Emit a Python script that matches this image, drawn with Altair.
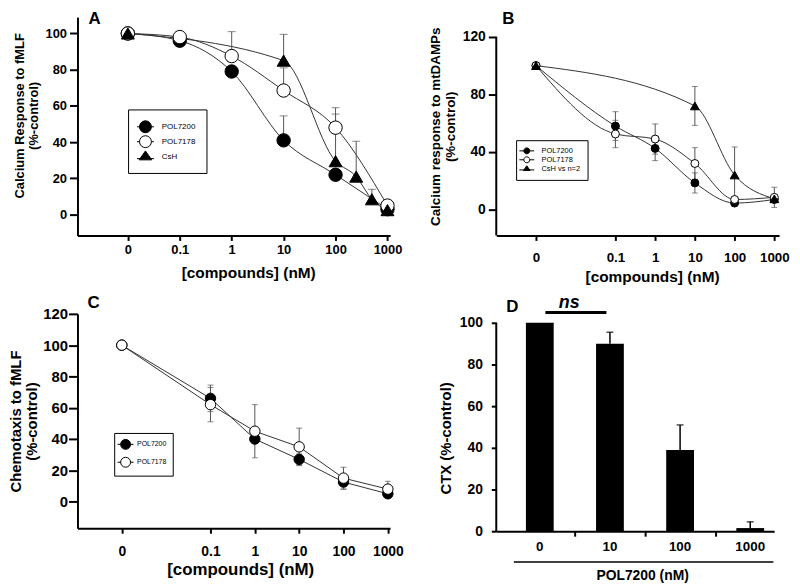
import altair as alt
import pandas as pd

FONT = "Liberation Sans"
LINE = "#333333"
ERRC = "#555555"

# ---------------- data ----------------
X_TICK_LABELS = ["0", "0.1", "1", "10", "100", "1000"]

A_conc = [0, 0.1, 1, 10, 100, 1000]
A_POL7200 = [100, 96, 79, 41, 22, 3]
A_POL7200_err = [0, 0, 0, 13.5, 0, 0]
A_POL7178 = [100, 98, 87.5, 68.5, 48, 5]
A_POL7178_err = [0, 0, 13.5, 12.5, 11, 0]
A_CsH_conc = [0, 10, 100, 250, 500, 1000]
A_CsH = [100, 85, 29.5, 21, 8.5, 2.5]
A_CsH_err = [0, 14.5, 26, 19.5, 5.5, 0]

B_conc = [0, 0.1, 1, 10, 100, 1000]
B_POL7200 = [100, 58, 42.5, 18.5, 4.5, 7]
B_POL7200_err = [0, 10, 8.5, 7, 0, 0]
B_POL7178 = [100, 52.5, 49, 32, 7, 8.5]
B_POL7178_err = [0, 9.5, 10.5, 11, 0, 7]
B_CsH_conc = [0, 10, 100, 1000]
B_CsH = [100, 72, 24, 7.5]
B_CsH_err = [0, 13.5, 19.5, 0]

C_conc = [0, 0.1, 1, 10, 100, 1000]
C_POL7200 = [100, 66, 40, 27, 12.5, 5]
C_POL7200_err = [0, 8.5, 0, 3.5, 4.5, 0]
C_POL7178 = [100, 62, 45, 35, 15, 8]
C_POL7178_err = [0, 11, 17, 12, 7, 5]

D_doses = ["0", "10", "100", "1000"]
D_ctx = [100, 90, 39, 1.5]
D_err = [0, 5.5, 12, 3]

AX = dict(domain=True, domainColor="#000000", domainWidth=2, ticks=True, tickColor="#000000",
          tickWidth=2, labelColor="#000000", titleColor="#000000", labelFont=FONT, titleFont=FONT,
          labelFontWeight="bold", titleFontWeight="bold", grid=False)


def sdf(name, conc, val, err):
    return pd.DataFrame({"series": name, "conc": conc, "value": val, "err": err})


def circ_path(st):
    return (f"M{-st},0L-1,0M1,0L{st},0M1,0A1,1,0,1,1,-1,0A1,1,0,1,1,1,0Z")


def tri_path(st, w, t, b, ly):
    return (f"M{-st},{ly}L{-w * 0.5},{ly}M{w * 0.5},{ly}L{st},{ly}M0,{-t}L{w},{b}L{-w},{b}Z")


def label_expr(vals, labels):
    expr = "''"
    for v, l in reversed(list(zip(vals, labels))):
        expr = f"datum.value == {v} ? '{l}' : ({expr})"
    return expr


def axis(**kw):
    d = dict(AX)
    d.update(kw)
    return alt.Axis(**d)


def curve_panel(key, series, zero_pos, xdom, ydom, w, h, xaxis, yaxis, legend,
                leg_size, title, both_err, cap, extra=None):
    def X():
        return alt.X("pos:Q", scale=alt.Scale(domain=xdom, nice=False, zero=False), axis=xaxis)

    def Y(field):
        return alt.Y(f"{field}:Q", scale=alt.Scale(domain=ydom, nice=False, zero=False), axis=yaxis)

    def base(df):
        return alt.Chart(df).transform_calculate(
            pos=f"datum.conc == 0 ? {zero_pos} : log(datum.conc) / LN10",
            hi="datum.value + datum.err",
            lo="datum.value - datum.err",
        )

    layers = []
    for s in series:
        layers.append(base(s["df"]).mark_line(interpolate=s["interp"], color=LINE, strokeWidth=1)
                      .encode(x=X(), y=Y("value")))
    for s in series:
        b = base(s["df"]).transform_filter("datum.err > 0")
        layers.append(b.mark_rule(color=ERRC, strokeWidth=1)
                      .encode(x=X(), y=Y("lo" if both_err else "value"), y2="hi:Q"))
        layers.append(b.mark_tick(orient="horizontal", size=cap, thickness=1, color=ERRC)
                      .encode(x=X(), y=Y("hi")))
        if both_err:
            layers.append(b.mark_tick(orient="horizontal", size=cap, thickness=1, color=ERRC)
                          .encode(x=X(), y=Y("lo")))
    for s in series:
        layers.append(base(s["df"]).mark_point(shape=s["shape"], size=s["size"], filled=True,
                                               fill="white" if s["open"] else "black",
                                               stroke="black", strokeWidth=1, opacity=1)
                      .encode(x=X(), y=Y("value")))
    names = [s["name"] for s in series]
    fld = f"leg{key}:N"
    leg = alt.Legend(**legend)
    layers.append(
        alt.Chart(pd.DataFrame({f"leg{key}": names})).transform_filter("false")
        .mark_point(filled=False, strokeWidth=1, opacity=1, size=leg_size)
        .encode(
            shape=alt.Shape(fld, scale=alt.Scale(domain=names, range=[s["lpath"] for s in series]), legend=leg),
            fill=alt.Fill(fld, scale=alt.Scale(domain=names, range=["white" if s["open"] else "black" for s in series]), legend=leg),
            stroke=alt.Stroke(fld, scale=alt.Scale(domain=names, range=["black"] * len(names)), legend=leg),
        )
    )
    if extra:
        layers += extra(X, Y)
    return alt.layer(*layers).properties(width=w, height=h, title=title)


def ptitle(t, dx, dy=0):
    return alt.TitleParams(text=t, anchor="start", frame="group", fontSize=17, fontWeight="bold",
                           font=FONT, color="black", dx=dx, dy=dy, offset=2)


def leg_cfg(x, y, pad, fs, rowpad, loff, ssize):
    return dict(orient="none", legendX=x, legendY=y, title=None, padding=pad, strokeColor="black",
                fillColor="white", labelFont=FONT, labelFontSize=fs, labelFontWeight="normal",
                labelColor="black", symbolSize=ssize, symbolStrokeWidth=1, symbolOpacity=1,
                rowPadding=rowpad, labelOffset=loff)


# ---------------- Panel A ----------------
A_ticks = [-2, -1, 0, 1, 2, 3]
A_x = axis(values=A_ticks, labelExpr=label_expr(A_ticks, X_TICK_LABELS), tickSize=5, labelPadding=3,
           labelFontSize=13, title="[compounds] (nM)", titleFontSize=15.5, titlePadding=9, titleX=172)
A_y = axis(values=[0, 20, 40, 60, 80, 100], tickSize=8, labelPadding=3, labelFontSize=13,
           title=["Calcium Response to fMLF", "(%-control)"], titleFontSize=13, titleLineHeight=13.5,
           titlePadding=5, titleY=99)
A_series = [
    dict(name="POL7200", df=sdf("POL7200", A_conc, A_POL7200, A_POL7200_err), open=False, shape="circle",
         size=182, interp="monotone", lpath=circ_path(1.42)),
    dict(name="POL7178", df=sdf("POL7178", A_conc, A_POL7178, A_POL7178_err), open=True, shape="circle",
         size=182, interp="monotone", lpath=circ_path(1.42)),
    dict(name="CsH", df=sdf("CsH", A_CsH_conc, A_CsH, A_CsH_err), open=False, shape="triangle-up",
         size=170, interp="monotone", lpath=tri_path(1.42, 1.05, 0.95, 0.55, 0.35)),
]
panelA = curve_panel("A", A_series, -2, [-2.97, 3.05], [-11.5, 109], 315, 220, A_x, A_y,
                     leg_cfg(51, 93, 11, 8, -3, 10, 144), 144, ptitle("A", 11, 13), False, 8)

# ---------------- Panel B ----------------
BC_ticks = [-3, -1, 0, 1, 2, 3]
B_x = axis(values=BC_ticks, labelExpr=label_expr(BC_ticks, X_TICK_LABELS), tickSize=5, labelPadding=10,
           labelFontSize=13.5, title="[compounds] (nM)", titleFontSize=15.5, titlePadding=6, titleX=157)
B_y = axis(values=[0, 20, 40, 60, 80, 100, 120], domain=False, tickSize=8, labelPadding=3, labelFontSize=14,
           title=["Calcium response to mtDAMPs", "(%-control)"], titleFontSize=13.5, titleLineHeight=15,
           titlePadding=5)
B_series = [
    dict(name="POL7200", df=sdf("POL7200", B_conc, B_POL7200, B_POL7200_err), open=False, shape="circle",
         size=64, interp="monotone", lpath=circ_path(2.5)),
    dict(name="POL7178", df=sdf("POL7178", B_conc, B_POL7178, B_POL7178_err), open=True, shape="circle",
         size=64, interp="monotone", lpath=circ_path(2.5)),
    dict(name="CsH vs n=2", df=sdf("CsH vs n=2", B_CsH_conc, B_CsH, B_CsH_err), open=False, shape="triangle-up",
         size=80, interp="monotone", lpath=tri_path(2.5, 1.1, 1.0, 0.6, 0.4)),
]


def B_extra(X, Y):
    return [alt.Chart(pd.DataFrame({"a": [0]})).mark_rule(color="black", strokeWidth=2)
            .encode(x=alt.value(0), y=alt.datum(-18), y2=alt.datum(120))]


panelB = curve_panel("B", B_series, -3, [-4, 3.12], [-18, 133.7], 285, 220, B_x, B_y,
                     leg_cfg(20, 124, 7, 7.5, -2.2, 11, 36), 36, ptitle("B", 6, 13), True, 6, B_extra)

# ---------------- Panel C ----------------
C_x = axis(values=BC_ticks, labelExpr=label_expr(BC_ticks, X_TICK_LABELS), tickSize=5, labelPadding=11,
           labelFontSize=14, title="[compounds] (nM)", titleFontSize=17, titlePadding=4, titleX=164)
C_y = axis(values=[0, 20, 40, 60, 80, 100, 120], tickSize=9, labelPadding=1, labelFontSize=15,
           title=["Chemotaxis to fMLF", "(%-control)"], titleFontSize=15, titleLineHeight=16, titlePadding=3)
C_series = [
    dict(name="POL7200", df=sdf("POL7200", C_conc, C_POL7200, C_POL7200_err), open=False, shape="circle",
         size=110, interp="linear", lpath=circ_path(1.6)),
    dict(name="POL7178", df=sdf("POL7178", C_conc, C_POL7178, C_POL7178_err), open=True, shape="circle",
         size=110, interp="linear", lpath=circ_path(1.6)),
]
panelC = curve_panel("C", C_series, -3, [-4, 3.05], [-17, 120], 315, 216, C_x, C_y,
                     leg_cfg(37, 120, 6, 7, 3, 6, 100), 100, ptitle("C", 10, 7), True, 6)

# ---------------- Panel D ----------------
D_df = pd.DataFrame({"dose": D_doses, "ctx": D_ctx, "err": D_err})
D_idx_expr = "indexof([" + ",".join(f"'{d}'" for d in D_doses) + "], datum.dose)"
D_H = 219
D_xaxis = axis(values=[0.5, 1.5, 2.5], labels=False, tickSize=5, title="POL7200 (nM)", titleFontSize=14,
               titlePadding=32, titleX=147)
D_yaxis = axis(values=[0, 20, 40, 60, 80, 100], domain=False, tickSize=5, labelPadding=9, labelFontSize=14,
               title="CTX (%-control)", titleFontSize=15, titlePadding=6, titleY=125)
DX = lambda f="idx": alt.X(f"{f}:Q", scale=alt.Scale(domain=[-0.55, 3.27], nice=False, zero=False), axis=D_xaxis)
DY = lambda f="ctx": alt.Y(f"{f}:Q", scale=alt.Scale(domain=[0, 104.3], nice=False, zero=False), axis=D_yaxis)
D_base = alt.Chart(D_df).transform_calculate(idx=D_idx_expr, hi="datum.ctx + datum.err")
panelD = alt.layer(
    D_base.mark_bar(size=28, color="black").encode(x=DX(), y=DY()),
    D_base.transform_filter("datum.err > 0").mark_rule(color="black", strokeWidth=1.5)
    .encode(x=DX(), y=DY(), y2="hi:Q"),
    D_base.transform_filter("datum.err > 0").mark_tick(orient="horizontal", size=7, thickness=1.5, color="black")
    .encode(x=DX(), y=DY("hi")),
    D_base.mark_text(font=FONT, fontSize=13.5, fontWeight="bold", baseline="top", color="black")
    .encode(x=DX(), y=alt.value(D_H + 9), text="dose:N"),
    alt.Chart(pd.DataFrame({"a": [0]})).mark_rule(color="black", strokeWidth=2)
    .encode(x=alt.value(0), y=alt.datum(0), y2=alt.datum(100)),
    alt.Chart(pd.DataFrame({"a": [0]})).mark_rule(color="black", strokeWidth=1.5)
    .encode(x=alt.datum(-0.37), x2=alt.datum(3.33), y=alt.value(D_H + 31)),
    alt.Chart(pd.DataFrame({"a": [0]})).mark_rule(color="black", strokeWidth=3)
    .encode(x=alt.datum(0.08), x2=alt.datum(0.95), y=alt.datum(105)),
    alt.Chart(pd.DataFrame({"t": ["ns"]})).mark_text(font=FONT, fontSize=18, fontWeight="bold", fontStyle="italic",
                                                     baseline="alphabetic", color="black")
    .encode(x=alt.datum(0.42), y=alt.datum(107), text="t:N"),
).properties(width=280, height=D_H, title=ptitle("D", 10, 24))

chart = alt.concat(panelA, panelB, panelC, panelD, columns=2, spacing={"row": 9, "column": 24},
                   align="each").resolve_scale(
    shape="independent", fill="independent", stroke="independent"
).resolve_legend(shape="independent", fill="independent", stroke="independent").properties(
    padding={"left": 0, "top": 0, "right": 2, "bottom": 0}
).configure(font=FONT).configure_view(strokeWidth=0)

chart.save("out.html", embed_options={"renderer": "svg", "actions": False})
